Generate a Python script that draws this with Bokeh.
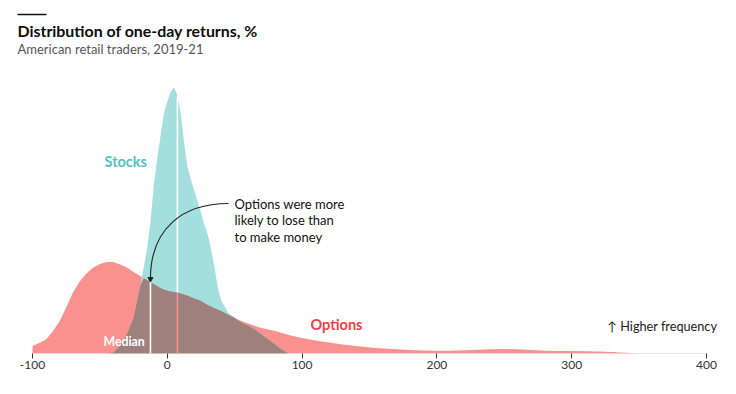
import numpy as np
from bokeh.plotting import figure
from bokeh.models import Label, FixedTicker, Range1d
from bokeh.embed import file_html
from bokeh.resources import INLINE

# ---------------- data ----------------
returns = [-100, -95, -90, -85, -80, -75, -70, -65, -60, -55, -50, -45, -40, -35, -30,
           -25, -20, -17.5, -15, -12.5, -10, -7.5, -5, -2.5, 0, 2.5, 5, 7.5, 10, 12.5,
           15, 17.5, 20, 22.5, 25, 27.5, 30, 32.5, 35, 37.5, 40, 45, 50, 55, 60, 65, 70,
           75, 80, 85, 90, 100, 110, 120, 130, 140, 150, 160, 170, 180, 190, 200, 210,
           220, 230, 240, 250, 260, 270, 280, 290, 300, 310, 320, 330, 340, 350]

options_freq = [7.5, 10.5, 14, 22, 32, 46, 61, 72, 80, 86, 89.5, 91.5, 91.5, 89, 86,
                81.5, 77.5, 75.5, 73.5, 71.5, 69.5, 67.5, 65.5, 64, 63, 62, 61.5, 61, 60, 59,
                58, 56.5, 55, 54, 52.5, 50.5, 48.5, 47, 45.5, 44, 42.5, 39, 35.5, 32.5, 30, 27.5, 25.5,
                24, 22.5, 20.5, 18.5, 15.5, 13, 11, 9, 7.5, 6, 5, 4.2, 3.5, 3, 2.7, 2.8,
                3.2, 3.8, 4.3, 4.5, 4.2, 3.5, 2.8, 2.5, 2.5, 2.3, 2, 1.5, 0.8, 0]

stocks_freq = [0, 0, 0, 0, 0, 0, 0, 0, 0, 0, 0, 0, 1, 8, 19,
               36, 68, 86, 105, 132, 168, 195, 218, 240, 252, 262, 266, 258, 240, 210,
               186, 174, 163, 152, 141, 129, 119, 104, 86, 66, 53, 41, 36, 31, 28, 24, 19,
               14, 9, 4, 0, 0, 0, 0, 0, 0, 0, 0, 0, 0, 0, 0, 0,
               0, 0, 0, 0, 0, 0, 0, 0, 0, 0, 0, 0, 0, 0]

options_median = -12.5
stocks_median = 7.5

x_ticks = [-100, 0, 100, 200, 300, 400]
x_tick_labels = ["-100", "0", "100", "200", "300", "400"]

# ---------------- layout helpers ----------------
W, H = 720, 378
BASE_Y = 353           # page y of the baseline
BOTTOM = H - BASE_Y
PX_PER_UNIT = 674 / 500.0
X0 = -100 - 32 / PX_PER_UNIT
X1 = 400 + (W - 706) / PX_PER_UNIT


def px(xp):  # page x -> data x
    return -100 + (xp - 32) / PX_PER_UNIT


def py(yp):  # page y -> data y
    return BASE_Y - yp


FONT = "Lato"
TEAL = "#a3dfdd"
RED = "#f9918e"
BROWN = "#9e807d"

p = figure(width=W, height=H, output_backend="svg", toolbar_location=None,
           x_range=Range1d(X0, X1), y_range=Range1d(0, BASE_Y),
           min_border_left=0, min_border_right=0, min_border_top=0,
           min_border_bottom=BOTTOM)
p.outline_line_color = None
p.grid.visible = False
p.yaxis.visible = False
p.background_fill_color = "white"

xs = np.array(returns, dtype=float)
opt = np.array(options_freq, dtype=float)
stk = np.array(stocks_freq, dtype=float)
ovl = np.minimum(opt, stk)

# baseline
p.segment(x0=[x_ticks[0]], y0=[0], x1=[x_ticks[-1]], y1=[0], line_color="#d4d4d4", line_width=1)


def area(y, color):
    p.patch(np.concatenate([[xs[0]], xs, [xs[-1]]]), np.concatenate([[0], y, [0]]),
            fill_color=color, line_color=None)


area(opt, RED)
area(stk, TEAL)
area(ovl, BROWN)

# median lines
i_o = returns.index(options_median)
i_s = returns.index(stocks_median)
p.segment(x0=[options_median], y0=[0], x1=[options_median], y1=[opt[i_o]],
          line_color="white", line_width=1.6)
p.segment(x0=[stocks_median], y0=[opt[i_s]], x1=[stocks_median], y1=[stk[i_s] - 1],
          line_color="white", line_width=1.6)
p.segment(x0=[stocks_median], y0=[0], x1=[stocks_median], y1=[opt[i_s]],
          line_color=RED, line_width=1.6)

# x axis
ax = p.xaxis[0]
ax.ticker = FixedTicker(ticks=x_ticks)
ax.major_label_overrides = dict(zip(x_ticks, x_tick_labels))
ax.axis_line_color = None
ax.major_tick_in = 0
ax.major_tick_out = 5
ax.major_tick_line_color = "#333333"
ax.minor_tick_line_color = None
ax.major_label_standoff = 2
ax.major_label_text_font = FONT
ax.major_label_text_font_size = "12px"
ax.major_label_text_color = "#333333"

# annotation arrow
ex, ey = options_median, opt[i_o]
sx, sy = px(228), py(203)
p.bezier(x0=[sx], y0=[sy], x1=[ex], y1=[ey + 3],
         cx0=[px(182)], cy0=[sy], cx1=[ex], cy1=[py(228)],
         line_color="#222222", line_width=1.1)
p.scatter(x=[ex], y=[ey + 3], marker="inverted_triangle", size=5,
          fill_color="#222222", line_color="#222222")


def label(text, xp, yp, size, color, bold=False, align="left"):
    p.add_layout(Label(x=px(xp), y=py(yp), text=text, text_font=FONT,
                       text_font_size=size, text_color=color,
                       text_font_style="bold" if bold else "normal",
                       text_baseline="middle", text_align=align))


# title rule
p.segment(x0=[px(17)], y0=[py(14)], x1=[px(46)], y1=[py(14)], line_color="#111111", line_width=1.5)
label("Distribution of one-day returns, %", 17, 30, "15.9px", "#0d0d0d", bold=True)
label("American retail traders, 2019-21", 17, 48, "13px", "#555555")

label("Stocks", 104, 161, "14.5px", "#55c1bd", bold=True)
label("Options", 310, 324, "14.5px", "#f03d46", bold=True)
label("Median", 103, 341, "12.3px", "white", bold=True)
label("Options were more", 234, 203, "13px", "#111111")
label("likely to lose than", 234, 219.5, "13px", "#111111")
label("to make money", 234, 236, "13px", "#111111")
label("\u2191 Higher frequency", 607, 325, "12.7px", "#1a1a1a")

open("out.html", "w").write(file_html(p, INLINE))
